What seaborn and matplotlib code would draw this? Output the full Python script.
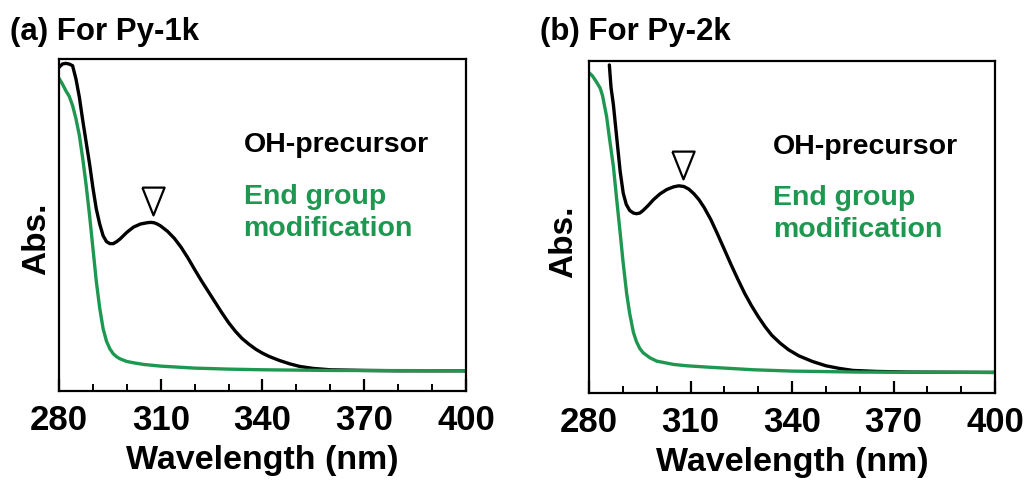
import numpy as np
import pandas as pd
import matplotlib
matplotlib.use("Agg")
import matplotlib.pyplot as plt
from matplotlib.ticker import MultipleLocator
import seaborn as sns

# ---------------- data (normalised absorbance) ----------------
wl_a_oh = [280, 281, 282, 283, 284, 285, 286, 287, 288, 289, 290, 291, 292, 293, 294,
           295, 296, 297, 298, 300, 302, 304, 306, 307, 308, 309, 310, 312, 314, 316, 318,
           320, 322, 324, 326, 328, 330, 332, 334, 336, 338, 340, 342, 345, 348, 351, 355,
           360, 370, 380, 400]
abs_a_oh = [0.975, 0.985, 0.987, 0.985, 0.980, 0.940, 0.885, 0.815, 0.750, 0.685, 0.612,
            0.548, 0.503, 0.468, 0.450, 0.444, 0.444, 0.450, 0.458, 0.478, 0.494, 0.503,
            0.507, 0.508, 0.507, 0.503, 0.497, 0.481, 0.460, 0.433, 0.401, 0.366, 0.332,
            0.300, 0.268, 0.236, 0.206, 0.180, 0.158, 0.141, 0.126, 0.114, 0.104, 0.092,
            0.082, 0.074, 0.068, 0.064, 0.062, 0.061, 0.061]

wl_a_end = [280, 281, 282, 283, 284, 285, 286, 287, 288, 289, 290, 291, 292, 293, 294,
            295, 296, 297, 298, 300, 302, 305, 310, 320, 330, 340, 360, 400]
abs_a_end = [0.942, 0.925, 0.905, 0.888, 0.860, 0.820, 0.770, 0.700, 0.620, 0.530, 0.430,
             0.330, 0.250, 0.188, 0.150, 0.127, 0.112, 0.103, 0.097, 0.089, 0.085, 0.080,
             0.075, 0.069, 0.066, 0.064, 0.062, 0.061]

wl_b_oh = [286.0, 286.5, 287.2, 288.2, 289.2, 290.1, 291.0, 292.0, 293.1, 294.0, 295.0,
           296.0, 297.5, 299.0, 301.0, 303.0, 305.0, 306.5, 308.0, 309.5, 311.0, 312.5,
           314.0, 316.0, 318.0, 320.0, 322.0, 324.0, 326.0, 328.0, 330.0, 332.0, 334.0,
           336.5, 339.0, 342.0, 346.0, 350.0, 354.0, 358.0, 365.0, 375.0, 400.0]
abs_b_oh = [0.988, 0.920, 0.868, 0.767, 0.667, 0.602, 0.568, 0.550, 0.542, 0.540, 0.542,
            0.550, 0.565, 0.582, 0.600, 0.613, 0.621, 0.624, 0.622, 0.614, 0.600, 0.582,
            0.559, 0.522, 0.478, 0.432, 0.386, 0.342, 0.300, 0.263, 0.230, 0.200, 0.174,
            0.150, 0.130, 0.112, 0.095, 0.082, 0.074, 0.068, 0.065, 0.063, 0.062]

wl_b_end = [280, 281, 282, 283.3, 284, 285.2, 286, 287.2, 288, 289.2, 290, 291.1, 292,
            293.1, 294, 295, 296, 298, 300, 305, 308.9, 315, 328.6, 340, 360, 400]
abs_b_end = [0.965, 0.955, 0.940, 0.918, 0.895, 0.832, 0.770, 0.682, 0.600, 0.482, 0.400,
             0.301, 0.240, 0.183, 0.155, 0.134, 0.121, 0.106, 0.096, 0.086, 0.082, 0.078,
             0.070, 0.066, 0.063, 0.062]

titles = ["(a) For Py-1k", "(b) For Py-2k"]
series_labels = ["OH-precursor", "End group\nmodification"]
peak_pos = [(307.8, 0.571), (307.9, 0.687)]
xticks = [280, 310, 340, 370, 400]

# ---------------- style ----------------
sns.set_theme(style="ticks")
plt.rcParams["font.family"] = ["Liberation Sans", "DejaVu Sans"]
plt.rcParams["font.weight"] = "bold"
plt.rcParams["text.color"] = "black"
plt.rcParams["xtick.color"] = "black"
plt.rcParams["axes.labelcolor"] = "black"

BLACK = "#000000"
GREEN = "#1e9850"

fig = plt.figure(figsize=(10.28, 4.84), dpi=100)
ax_a = fig.add_axes([0.0574, 0.1921, 0.3959, 0.6859])
ax_b = fig.add_axes([0.5730, 0.1880, 0.3950, 0.6860])

panels = [
    (ax_a, wl_a_oh, abs_a_oh, wl_a_end, abs_a_end),
    (ax_b, wl_b_oh, abs_b_oh, wl_b_end, abs_b_end),
]
text_y = [(0.741, 0.535), (0.742, 0.538)]
abs_label_pos = [(37 / 1028, 1 - 239 / 484), (564 / 1028, 1 - 242 / 484)]
title_pos = [(10 / 1028, 1 - 32 / 484), (540 / 1028, 1 - 32 / 484)]

for i, (ax, x1, y1, x2, y2) in enumerate(panels):
    df1 = pd.DataFrame({"wl": x1, "abs": y1})
    df2 = pd.DataFrame({"wl": x2, "abs": y2})
    sns.lineplot(data=df1, x="wl", y="abs", ax=ax, color=BLACK, lw=2.4, sort=False)
    sns.lineplot(data=df2, x="wl", y="abs", ax=ax, color=GREEN, lw=2.4, sort=False)

    ax.set_xlim(280, 400)
    ax.set_ylim(0, 1)
    ax.set_xticks(xticks)
    ax.xaxis.set_minor_locator(MultipleLocator(10))
    ax.set_yticks([])
    ax.tick_params(axis="x", which="major", direction="in", length=9, width=1.6,
                   labelsize=25, pad=9, top=False, colors="black")
    ax.tick_params(axis="x", which="minor", direction="in", length=5, width=1.4,
                   top=False, colors="black")
    for lab in ax.get_xticklabels():
        lab.set_fontweight("bold")
    for sp in ax.spines.values():
        sp.set_linewidth(1.6)
        sp.set_color("black")

    ax.set_xlabel("Wavelength (nm)", fontsize=24.5, fontweight="bold", labelpad=6,
                  color="black")
    ax.set_ylabel("")

    # peak marker (open downward triangle)
    tri = [(-0.8, 1.0), (0.8, 1.0), (0.0, -1.0), (-0.8, 1.0)]
    ax.plot([peak_pos[i][0]], [peak_pos[i][1]], marker=tri, markersize=20,
            mfc="white", mec="black", mew=1.6, ls="none")

    ax.text(334.4, text_y[i][0], series_labels[0], color=BLACK, fontsize=20.5,
            fontweight="bold", ha="left", va="center")
    ax.text(334.4, text_y[i][1], series_labels[1], color=GREEN, fontsize=20.5,
            fontweight="bold", ha="left", va="center", linespacing=1.3)

    fig.text(abs_label_pos[i][0], abs_label_pos[i][1], "Abs.", rotation=90,
             fontsize=24, fontweight="bold", ha="center", va="center", color="black")
    fig.text(title_pos[i][0], title_pos[i][1], titles[i], fontsize=22.5,
             fontweight="bold", ha="left", va="center", color="black")

fig.savefig("out.png", dpi=100)
